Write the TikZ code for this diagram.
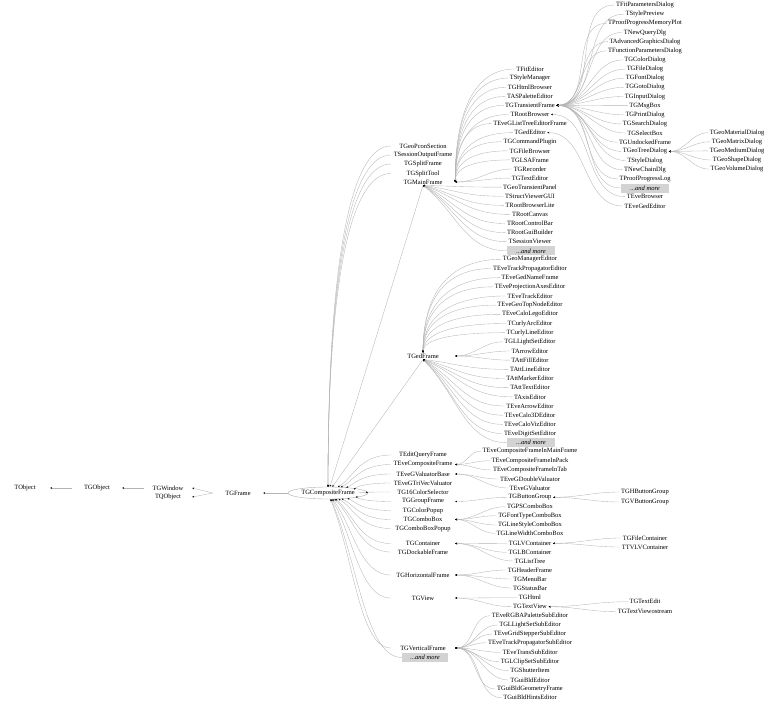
\documentclass[tikz,border=0pt]{standalone}
\usepackage{fontspec}
\setmainfont{Liberation Serif}
\usetikzlibrary{arrows.meta,calc,shapes.geometric}
\definecolor{aresta}{HTML}{B4B4B4}
\definecolor{cinzaclaro}{HTML}{D3D3D3}

\begin{document}
\begin{tikzpicture}[
  x=1pt,y=-1pt,
  classe/.style={inner xsep=1.5pt,inner ysep=1pt,font=\fontsize{6.5}{7}\selectfont},
  cadeia/.style={classe,minimum width=50pt},
  coluna/.style={classe,minimum width=64pt},
  mais/.style={classe,fill=cinzaclaro,minimum width=48pt,minimum height=9pt,
               font=\fontsize{6.5}{7}\selectfont\itshape},
  arr/.style={{Stealth[length=2pt,width=1.7pt,color=black]}-,aresta,line width=0.35pt},
  leque/.style={arr,to path={.. controls ($(\tikztostart)!0.4!(\tikztotarget)$)
                and ($(\tikztotarget)!0.5!(\tikztostart |- \tikztotarget)$) .. (\tikztotarget)}},
  cotovelo/.style={arr,to path={.. controls ($(\tikztostart)!0.7!(\tikztostart |- \tikztotarget)$)
                and ($(\tikztotarget)!0.6!(\tikztostart |- \tikztotarget)$) .. (\tikztotarget)}},
  cunha/.style={arr,out=0,in=180}
]
  \useasboundingbox (0,0) rectangle (768,704);

  \node[cadeia] (obj) at (25,488) {TObject};
  \node[cadeia] (gobj) at (97,488) {TGObject};
  \node[cadeia,minimum width=48pt] (win) at (168,488) {TGWindow};
  \node[cadeia,minimum width=48pt] (qobj) at (168,497) {TQObject};
  \node[cadeia] (frm) at (238,493) {TGFrame};
  \node[classe,ellipse,draw=gray!70,line width=0.35pt,inner sep=0pt,
        minimum width=80pt,minimum height=12pt] (cf) at (328,493) {TGCompositeFrame};
  \draw[arr] (obj) -- (gobj);
  \draw[arr] (gobj) -- (win);
  \draw[arr] (win.east) -- (frm.west);
  \draw[arr] (qobj.east) -- (frm.west);
  \draw[arr] (frm) -- (cf);

  \foreach \nome/\txt/\y in {pcon/TGeoPconSection/146, sout/TSessionOutputFrame/155,
      split/TGSplitFrame/164, stool/TGSplitTool/173.5, mf/TGMainFrame/182, ged/TGedFrame/356,
      query/TEditQueryFrame/455, ecf/TEveCompositeFrame/464.5, gvb/TEveGValuatorBase/474,
      trivec/TEveGTriVecValuator/483, c16/TG16ColorSelector/492, grp/TGGroupFrame/501.5,
      cpop/TGColorPopup/510.5, cbx/TGComboBox/519.5, cbxp/TGComboBoxPopup/528.5,
      cont/TGContainer/543.5, dock/TGDockableFrame/552, hf/TGHorizontalFrame/575,
      view/TGView/598, vf/TGVerticalFrame/648}
    \node[coluna] (\nome) at (423,\y) {\txt};
  \node[mais,minimum width=46pt] (mais2) at (425,657.5) {...and more};
  \foreach \nome in {pcon,sout,split,stool}
    \draw[cotovelo] (cf.north) to (\nome.west);
  \draw[arr] (cf) -- (mf.south);
  \draw[arr] (cf) -- (ged.south);
  \foreach \nome in {query,ecf,gvb,trivec,c16,grp,cpop,cbx,cbxp,cont,dock,hf,view,vf,mais2}
    \draw[leque] (cf) to (\nome.west);

  \foreach \txt [count=\i] in {TFitEditor, TStyleManager, TGHtmlBrowser, TASPaletteEditor,
      TGTransientFrame, TRootBrowser, TEveGListTreeEditorFrame, TGedEditor, TGCommandPlugin,
      TGFileBrowser, TGLSAFrame, TGRecorder, TGTextEditor, TGeoTransientPanel, TStructViewerGUI,
      TRootBrowserLite, TRootCanvas, TRootControlBar, TRootGuiBuilder, TSessionViewer}
  {
    \node[classe] (m\i) at (530,{69+(\i-1)*9.09}) {\txt};
    \ifnum\i<12
      \draw[cotovelo] (mf.east) to (m\i.west);
    \else\ifnum\i<14
      \draw[cunha] (mf.east) to (m\i.west);
    \else
      \draw[leque] (mf.south) to (m\i.west);
    \fi\fi
  }
  \node[mais] (m21) at (531,250.8) {...and more};
  \draw[leque] (mf.south) to (m21.west);

  \foreach \txt [count=\i] in {TFitParametersDialog, TStylePreview, TProofProgressMemoryPlot,
      TNewQueryDlg, TAdvancedGraphicsDialog, TFunctionParametersDialog, TGColorDialog,
      TGFileDialog, TGFontDialog, TGGotoDialog, TGInputDialog, TGMsgBox, TGPrintDialog,
      TGSearchDialog, TGSelectBox, TGUndockedFrame, TGeoTreeDialog, TStyleDialog,
      TNewChainDlg, TProofProgressLog}
  {
    \node[classe] (t\i) at (645,{5+(\i-1)*9.15}) {\txt};
    \draw[cunha] (m5.east) to (t\i.west);
  }
  \node[mais] (t21) at (645,188) {...and more};
  \draw[cunha] (m5.east) to (t21.west);
  \node[classe] (t22) at (645,196.7) {TEveBrowser};
  \draw[cunha] (m6.east) to (t22.west);
  \node[classe] (t23) at (645,206) {TEveGedEditor};
  \draw[cunha] (m8.east) to (t23.west);

  \foreach \txt [count=\i] in {TGeoMaterialDialog, TGeoMatrixDialog, TGeoMediumDialog,
      TGeoShapeDialog, TGeoVolumeDialog}
  {
    \node[classe] (g\i) at (737,{132.7+(\i-1)*9.1}) {\txt};
    \draw[cunha] (t17.east) to (g\i.west);
  }

  \foreach \txt [count=\i] in {TGeoManagerEditor, TEveTrackPropagatorEditor, TEveGedNameFrame,
      TEveProjectionAxesEditor, TEveTrackEditor, TEveGeoTopNodeEditor, TEveCaloLegoEditor,
      TCurlyArcEditor, TCurlyLineEditor, TGLLightSetEditor, TArrowEditor, TAttFillEditor,
      TAttLineEditor, TAttMarkerEditor, TAttTextEditor, TAxisEditor, TEveArrowEditor,
      TEveCalo3DEditor, TEveCaloVizEditor, TEveDigitSetEditor}
  {
    \node[classe] (e\i) at (530,{259.3+(\i-1)*9.17}) {\txt};
    \ifnum\i<10
      \draw[cotovelo] (ged.north) to (e\i.west);
    \else\ifnum\i<13
      \draw[cunha] (ged.east) to (e\i.west);
    \else
      \draw[leque] (ged.south) to (e\i.west);
    \fi\fi
  }
  \node[mais] (e21) at (531,442.7) {...and more};
  \draw[leque] (ged.south) to (e21.west);

  \foreach \nome/\txt/\y/\pai in {inmain/TEveCompositeFrameInMainFrame/451/ecf,
      inpack/TEveCompositeFrameInPack/460.7/ecf, intab/TEveCompositeFrameInTab/470/ecf,
      dval/TEveGDoubleValuator/479/gvb, gval/TEveGValuator/488/gvb,
      bgrp/TGButtonGroup/497.3/grp, pscb/TGPSComboBox/506.7/cbx,
      ftcb/TGFontTypeComboBox/515.7/cbx, lscb/TGLineStyleComboBox/525/cbx,
      lwcb/TGLineWidthComboBox/533.3/cbx, lvc/TGLVContainer/543.3/cont,
      lbc/TGLBContainer/552.3/cont, ltree/TGListTree/561/cont,
      hdr/TGHeaderFrame/570/hf, menu/TGMenuBar/579/hf, stat/TGStatusBar/588/hf,
      html/TGHtml/597.7/view, tview/TGTextView/606.7/view,
      rgba/TEveRGBAPaletteSubEditor/615.7/vf, lset/TGLLightSetSubEditor/625/vf,
      grid/TEveGridStepperSubEditor/634/vf, tprop/TEveTrackPropagatorSubEditor/642.7/vf,
      trans/TEveTransSubEditor/652.3/vf, clip/TGLClipSetSubEditor/661.7/vf,
      shut/TGShutterItem/670.7/vf, bld/TGuiBldEditor/680/vf,
      geom/TGuiBldGeometryFrame/689/vf, hints/TGuiBldHintsEditor/697.7/vf}
  {
    \node[classe] (\nome) at (530,\y) {\txt};
    \draw[cunha] (\pai.east) to (\nome.west);
  }

  \foreach \nome/\txt/\y/\pai in {hbg/TGHButtonGroup/492/bgrp, vbg/TGVButtonGroup/502/bgrp,
      fcont/TGFileContainer/538/lvc, tvlv/TTVLVContainer/547/lvc,
      tedit/TGTextEdit/601.7/tview, tvos/TGTextViewostream/611.7/tview}
  {
    \node[classe] (\nome) at (645,\y) {\txt};
    \draw[cunha] (\pai.east) to (\nome.west);
  }
\end{tikzpicture}
\end{document}
